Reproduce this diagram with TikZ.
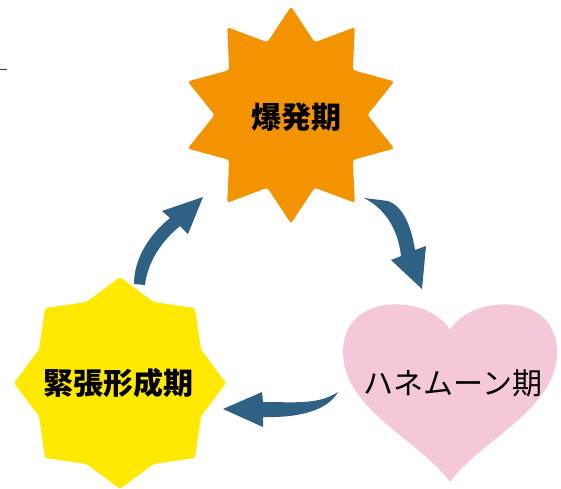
\documentclass[tikz,border=0pt]{standalone}
\usepackage{fontspec}
\newfontfamily\jp{Noto Sans CJK JP}
\usetikzlibrary{shapes.geometric}
\definecolor{burst}{RGB}{243,147,0}
\definecolor{tension}{RGB}{255,233,0}
\definecolor{honey}{RGB}{245,199,218}
\definecolor{arrowblue}{RGB}{47,97,133}
\tikzset{
  stage/.style={font=\jp\fontsize{30}{30}\selectfont, text=black, inner sep=0pt},
  boldstage/.style={stage, font=\jp\bfseries\fontsize{30}{30}\selectfont},
  starbox/.style={star, draw=none, inner sep=0pt, rounded corners=2.5pt},
  curvearrow/.style={fill=arrowblue, draw=none}
}
\begin{document}
\begin{tikzpicture}[x=1pt,y=-1pt]
\useasboundingbox (0,0) rectangle (561,488);
\fill[white] (0,0) rectangle (561,488);
% tiny mark at left
\draw[line width=1.5pt, color=black!75] (0,69.5) -- (7,69.5);
% stars
\node[starbox, star points=10, star point ratio=1.42, minimum size=217pt, fill=burst] (burstshape) at (291,115) {};
\node[starbox, star points=8, star point ratio=1.21, minimum size=212pt, fill=tension] (tensionshape) at (120,383) {};
% heart
\fill[honey] (450,330) .. controls (430,295) and (343,290) .. (343,352)
  .. controls (343,410) and (420,440) .. (450,482)
  .. controls (480,440) and (557,410) .. (557,352)
  .. controls (557,290) and (470,295) .. (450,330) -- cycle;
% labels
\node[boldstage] (burst) at (296,117) {爆発期};
\node[boldstage] (tensionlab) at (118,383) {緊張形成期};
\node[stage] (honeylab) at (453,383) {ハネムーン期};
% arrows
\fill[curvearrow] (134,284) .. controls (134,258) and (150,234) .. (170,218)
  -- (162,211) -- (203,197) -- (188,234) -- (180,226)
  .. controls (163,240) and (148,260) .. (145,285) -- cycle;
\fill[curvearrow] (364,198) .. controls (384,208) and (398,228) .. (401,256)
  -- (391,260) -- (422,289) -- (426,246) -- (415,250)
  .. controls (411,224) and (402,206) .. (388,201) -- cycle;
\fill[curvearrow] (338,392) .. controls (318,405) and (295,402) .. (263,402)
  -- (262,392) -- (223,409) -- (263,427) -- (263,417)
  .. controls (300,418) and (328,410) .. (338,392) -- cycle;
\end{tikzpicture}
\end{document}
